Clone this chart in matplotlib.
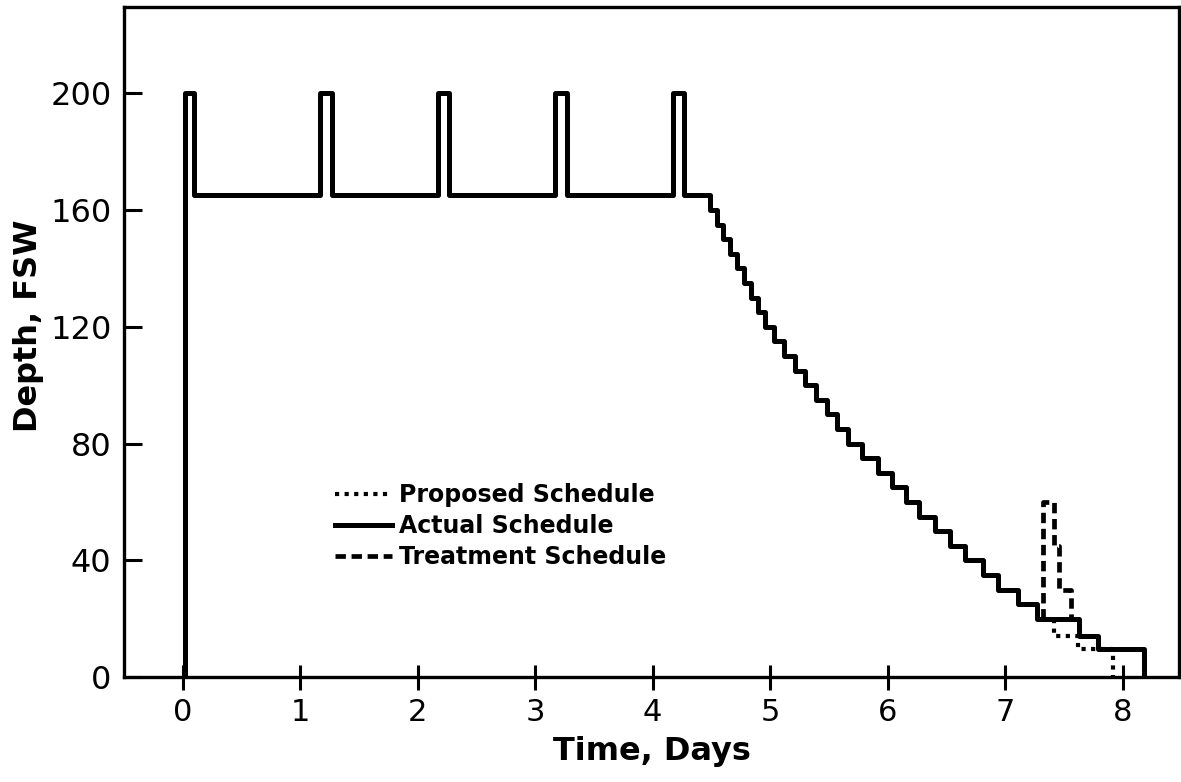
import matplotlib
matplotlib.use("Agg")
import matplotlib.pyplot as plt

# ---- data (time in days, depth in FSW) ----
# actual schedule as step changes: depth holds from t[i] until t[i+1]
actual_t = [0.02, 0.02, 0.10, 1.17, 1.27, 2.17, 2.27, 3.17, 3.27, 4.17, 4.27,
            4.49, 4.55, 4.60, 4.66, 4.72, 4.78, 4.84, 4.90, 4.96, 5.03,
            5.12, 5.21, 5.30, 5.39, 5.48, 5.57, 5.66, 5.78, 5.92, 6.04,
            6.16, 6.27, 6.40, 6.53, 6.66, 6.81, 6.94, 7.11, 7.27, 7.63,
            7.79, 8.18]
actual_d = [0, 200, 165, 200, 165, 200, 165, 200, 165, 200, 165,
            160, 155, 150, 145, 140, 135, 130, 125, 120, 115,
            110, 105, 100, 95, 90, 85, 80, 75, 70, 65,
            60, 55, 50, 45, 40, 35, 30, 25, 20, 14,
            9.5, 0]

treatment_t = [7.32, 7.32, 7.42, 7.46, 7.56]
treatment_d = [20, 60, 45, 30, 20]

proposed_t = [7.42, 7.42, 7.62, 7.92, 7.92]
proposed_d = [20, 14, 9.5, 9.5, 0]

x_ticks = [0, 1, 2, 3, 4, 5, 6, 7, 8]
y_ticks = [0, 40, 80, 120, 160, 200]

fig = plt.figure(figsize=(11.81, 7.82), dpi=100)
ax = fig.add_axes([0.105, 0.134, 0.8933, 0.8568])

(l_prop,) = ax.plot(proposed_t, proposed_d, drawstyle="steps-post", color="black",
                    lw=3.0, linestyle=(0, (1, 1.3)))
(l_act,) = ax.plot(actual_t, actual_d, drawstyle="steps-post", color="black",
                   lw=3.6, solid_joinstyle="round")
(l_trt,) = ax.plot(treatment_t, treatment_d, drawstyle="steps-post", color="black",
                   lw=3.4, linestyle=(0, (2.2, 1.2)))

ax.set_xlim(-0.5, 8.48)
ax.set_ylim(0, 229.5)
ax.set_xticks(x_ticks)
ax.set_yticks(y_ticks)
ax.tick_params(axis="y", direction="in", length=13, width=2.2, pad=9, labelsize=23)
ax.tick_params(axis="x", direction="inout", length=18, width=2.2, pad=6, labelsize=22)

for sp in ax.spines.values():
    sp.set_linewidth(2.4)

ax.set_xlabel("Time, Days", fontweight="bold", fontsize=23)
ax.set_ylabel("Depth, FSW", fontweight="bold", fontsize=23)
ax.xaxis.set_label_coords(0.5, -0.087)
ax.yaxis.set_label_coords(-0.076, 0.525)

ax.legend([l_prop, l_act, l_trt],
          ["Proposed Schedule", "Actual Schedule", "Treatment Schedule"],
          loc="upper left", bbox_to_anchor=(0.2, 0.29), frameon=False,
          prop={"weight": "bold", "size": 17},
          handlelength=2.4, handletextpad=0.3, labelspacing=0.3,
          borderpad=0, borderaxespad=0)

fig.savefig("out.png", dpi=100)
